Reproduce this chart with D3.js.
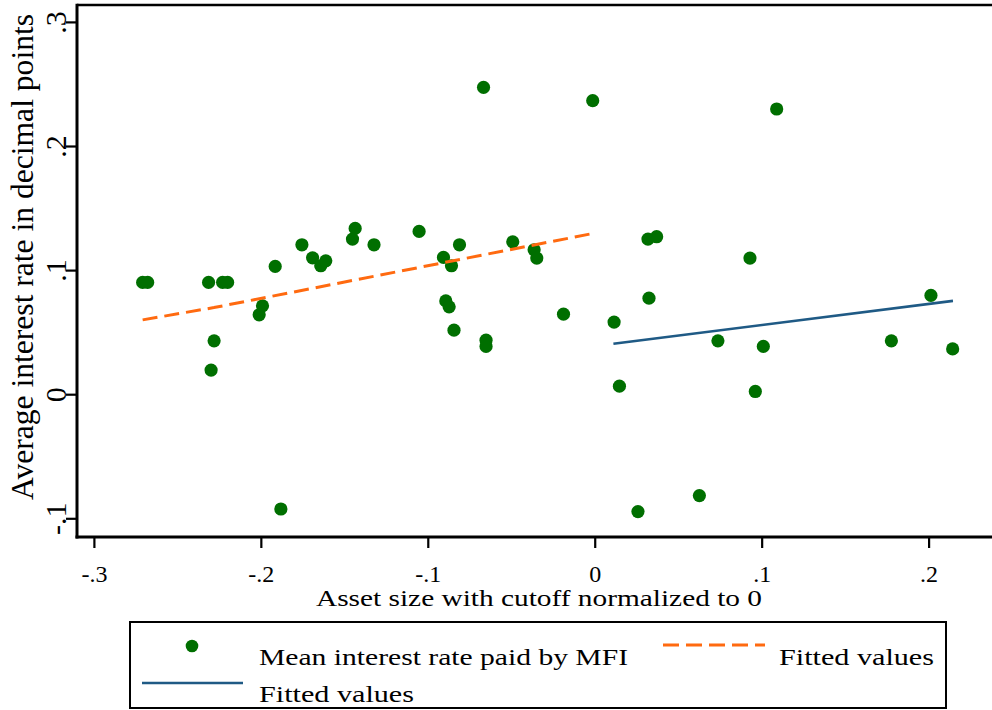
<!DOCTYPE html>
<html><head><meta charset="utf-8">
<script src="https://cdn.jsdelivr.net/npm/d3@7"></script>
<style>body{margin:0;background:#fff}svg{display:block}svg text{font-family:"Liberation Serif","Times New Roman",Tinos,"DejaVu Serif","Noto Serif",serif !important;fill:#000}</style>
</head><body>
<svg id="c" width="992" height="710"></svg>
<script>
// Scatter: mean interest rate paid by MFI
const pointX = [-0.2708,-0.2678,-0.2313,-0.2229,-0.2199,-0.1914,-0.1990,-0.2010,-0.2280,-0.2298,-0.1880,
  -0.1754,-0.1690,-0.1641,-0.1611,-0.1435,-0.1451,-0.1322,-0.1052,-0.0906,-0.0858,-0.0810,-0.0666,-0.0491,
  -0.0363,-0.0347,-0.0012,-0.0892,-0.0872,-0.0843,-0.0651,-0.0651,-0.0187,0.0116,0.0148,0.0259,0.0319,0.0371,
  0.0325,0.0627,0.0738,0.0930,0.0962,0.1010,0.1090,0.1777,0.2014,0.2144];
const pointY = [0.0901,0.0901,0.0901,0.0901,0.0901,0.1030,0.0712,0.0640,0.0430,0.0194,-0.0925,
  0.1204,0.1099,0.1035,0.1075,0.1336,0.1250,0.1204,0.1312,0.1102,0.1035,0.1204,0.2473,0.1228,
  0.1164,0.1097,0.2365,0.0752,0.0704,0.0516,0.0435,0.0385,0.0645,0.0581,0.0065,-0.0946,0.1250,0.1269,
  0.0774,-0.0817,0.0430,0.1097,0.0022,0.0385,0.2298,0.0430,0.0796,0.0365];
// Fitted values, left of cutoff (dashed) and right of cutoff (solid)
const fitLeftX = [-0.2708,-0.2281,-0.0008];
const fitLeftY = [0.0599,0.0698,0.1296];
const fitRightX = [0.0112,0.2146];
const fitRightY = [0.0406,0.0752];
const xTicks = [-0.3,-0.2,-0.1,0,0.1,0.2];
const yTicks = [-0.1,0,0.1,0.2,0.3];
const xTickLabels = ["-.3","-.2","-.1","0",".1",".2"];
const yTickLabels = ["-.1","0",".1",".2",".3"];
const xTitle = "Asset size with cutoff normalized to 0";
const yTitle = "Average interest rate in decimal points";
const legendLabels = ["Mean interest rate paid by MFI","Fitted values","Fitted values"];

const GREEN = "#006f00", ORANGE = "#ff6a10", BLUE = "#1f5a85";
const FONT = '"Liberation Serif","Times New Roman",Tinos,"DejaVu Serif","Noto Serif",serif';
const svg = d3.select("#c");
const x = d3.scaleLinear().domain([-0.3,0.2]).range([93.9,928.6]);
const y = d3.scaleLinear().domain([-0.1,0.3]).range([518.3,21.9]);
const L = 77, R = 1000, T = 5, B = 537;

// frame: top line + axes
svg.append("line").attr("x1",L).attr("x2",R).attr("y1",T).attr("y2",T).attr("stroke","#000").attr("stroke-width",2.6);

const xAxis = d3.axisBottom(x).tickValues(xTicks).tickSize(11).tickPadding(0).tickFormat((d,i)=>xTickLabels[i]);
const gx = svg.append("g").attr("transform",`translate(0,${B})`).call(xAxis).attr("font-family",FONT);
gx.select(".domain").remove();
gx.selectAll(".tick line").attr("stroke","#000").attr("stroke-width",2.2);
gx.selectAll(".tick text").attr("y",45).attr("dy",0).style("font-size","24px");
svg.append("line").attr("x1",L-1.5).attr("x2",R).attr("y1",B).attr("y2",B).attr("stroke","#000").attr("stroke-width",3);

const yAxis = d3.axisLeft(y).tickValues(yTicks).tickSize(11).tickPadding(0).tickFormat((d,i)=>yTickLabels[i]);
const gy = svg.append("g").attr("transform",`translate(${L},0)`).call(yAxis).attr("font-family",FONT);
gy.select(".domain").remove();
gy.selectAll(".tick line").attr("stroke","#000").attr("stroke-width",2.2);
gy.selectAll(".tick text").attr("x",0).attr("dy",0).attr("text-anchor","middle")
  .attr("transform","translate(-11,0) rotate(-90)")
  .style("font-size","30px");
svg.append("line").attr("x1",L).attr("x2",L).attr("y1",T-1.3).attr("y2",B+1.5).attr("stroke","#000").attr("stroke-width",3);

// titles
svg.append("text").attr("x",539).attr("y",606).attr("text-anchor","middle")
  .attr("textLength",446).attr("lengthAdjust","spacingAndGlyphs").style("font-size","24px").text(xTitle);
svg.append("text").attr("transform","translate(33,257) rotate(-90)").attr("text-anchor","middle")
  .attr("textLength",486).attr("lengthAdjust","spacingAndGlyphs").style("font-size","31px").text(yTitle);

// data
const fitL = fitLeftX.map((v,i)=>[v,fitLeftY[i]]);
const fitR = fitRightX.map((v,i)=>[v,fitRightY[i]]);
const line = d3.line().x(d=>x(d[0])).y(d=>y(d[1]));
svg.append("g").selectAll("circle").data(pointX.map((v,i)=>[v,pointY[i]])).join("circle")
  .attr("cx",d=>x(d[0])).attr("cy",d=>y(d[1])).attr("r",6.6).attr("fill",GREEN);
svg.append("path").attr("d",line(fitL)).attr("fill","none").attr("stroke",ORANGE).attr("stroke-width",3).attr("stroke-dasharray","15,7");
svg.append("path").attr("d",line(fitR)).attr("fill","none").attr("stroke",BLUE).attr("stroke-width",2.6);

// legend
const lg = svg.append("g");
lg.append("rect").attr("x",130).attr("y",622).attr("width",816).attr("height",86).attr("fill","#fff").attr("stroke","#000").attr("stroke-width",2);
lg.append("circle").attr("cx",192).attr("cy",646).attr("r",6.3).attr("fill",GREEN);
lg.append("line").attr("x1",663).attr("x2",765).attr("y1",645).attr("y2",645).attr("stroke",ORANGE).attr("stroke-width",3).attr("stroke-dasharray","16,7");
lg.append("line").attr("x1",142).attr("x2",243).attr("y1",683).attr("y2",683).attr("stroke",BLUE).attr("stroke-width",2.6);
lg.append("text").attr("x",259).attr("y",665).attr("textLength",369).attr("lengthAdjust","spacingAndGlyphs").style("font-size","24px").text(legendLabels[0]);
lg.append("text").attr("x",779).attr("y",665).attr("textLength",155).attr("lengthAdjust","spacingAndGlyphs").style("font-size","24px").text(legendLabels[1]);
lg.append("text").attr("x",259).attr("y",702).attr("textLength",155).attr("lengthAdjust","spacingAndGlyphs").style("font-size","24px").text(legendLabels[2]);
</script>
</body></html>
